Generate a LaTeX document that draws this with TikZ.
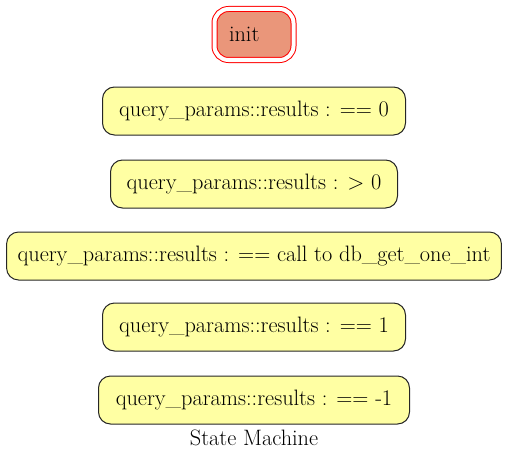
\documentclass[tikz,border=0pt]{standalone}
\definecolor{stateyellow}{RGB}{255,255,163}
\definecolor{initsalmon}{RGB}{234,150,122}
\begin{document}
\begin{tikzpicture}[x=1pt,y=-1pt,font=\fontsize{22.3}{26}\selectfont,
  state/.style={draw=black!85, line width=1pt, fill=stateyellow, rounded corners=12pt,
    minimum height=48pt, inner xsep=11pt},
  initstate/.style={draw=red, line width=1pt, fill=initsalmon, double=white, double distance=4pt,
    rounded corners=14pt, minimum height=51pt, text width=50pt, align=left, inner xsep=14.5pt}]
\useasboundingbox (0,0) rectangle (508,460);

\node[initstate] (init) at (254,34.5) {init};
\node[state, minimum width=303pt] (eqzero) at (254,111) {query\_params::results : == 0};
\node[state, minimum width=287pt] (gtzero) at (254,184) {query\_params::results : > 0};
\node[state] (eqcall) at (254,256) {query\_params::results : == call to db\_get\_one\_int};
\node[state, minimum width=303pt] (eqone) at (254,327) {query\_params::results : == 1};
\node[state, minimum width=311pt] (eqminus) at (254,400) {query\_params::results : == -1};

\node (caption) at (254,438) {State Machine};
\end{tikzpicture}
\end{document}
